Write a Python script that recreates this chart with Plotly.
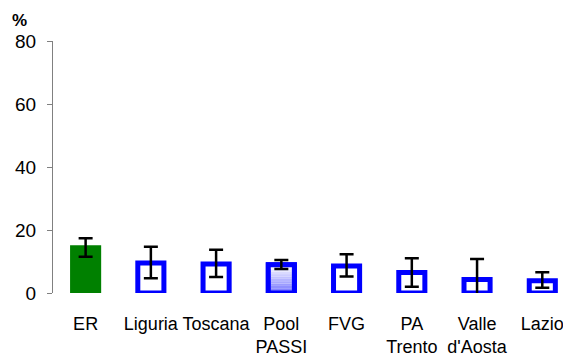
import plotly.graph_objects as go

categories = ["ER", "Liguria", "Toscana", "Pool<br>PASSI", "FVG", "PA<br>Trento", "Valle<br>d'Aosta", "Lazio"]
values = [14.4, 9.5, 9.2, 9.0, 8.6, 6.5, 4.3, 3.9]
ci_low = [11.5, 4.7, 5.1, 7.6, 5.2, 2.0, -1.6, 1.7]
ci_high = [17.4, 14.7, 13.7, 10.5, 12.3, 11.0, 10.8, 6.6]
y_ticks = [0, 20, 40, 60, 80]

GREEN = "#008000"
BLUE = "#0000FF"
BAR_W = 0.40
LINE_W = 5

# the page body has an 8px margin, so the figure is sized/offset to compensate
FIG_W, FIG_H = 563, 348
M_L, M_T, M_B, M_R = 45, 33, 63, 0
PLOT_W = FIG_W - M_L - M_R
PLOT_H = FIG_H - M_T - M_B

fig = go.Figure()

# ER bar (green)
fig.add_trace(go.Bar(
    x=[categories[0]], y=[values[0]], width=BAR_W,
    marker=dict(color=GREEN, line=dict(color=GREEN, width=LINE_W)),
    showlegend=False, hoverinfo="skip",
))

# outlined bars (blue border), white fill
others = list(range(1, len(categories)))
pool_idx = 3
fig.add_trace(go.Bar(
    x=[categories[i] for i in others], y=[values[i] for i in others], width=BAR_W,
    marker=dict(color="white", line=dict(color=BLUE, width=LINE_W)),
    showlegend=False, hoverinfo="skip",
))

# Pool PASSI gradient fill built from stacked slices of its own value
n_slices = 12
pv = values[pool_idx]
for i in range(n_slices):
    t = i / (n_slices - 1)  # 0 bottom -> 1 top
    r = int(120 + (255 - 120) * t)
    g = int(120 + (255 - 120) * t)
    fig.add_trace(go.Bar(
        x=[categories[pool_idx]], y=[pv / n_slices], base=[pv * i / n_slices],
        width=BAR_W,
        marker=dict(color=f"rgb({r},{g},255)", line=dict(width=0)),
        showlegend=False, hoverinfo="skip",
    ))

# Pool PASSI outline on top
fig.add_trace(go.Bar(
    x=[categories[pool_idx]], y=[pv], width=BAR_W,
    marker=dict(color="rgba(0,0,0,0)", line=dict(color=BLUE, width=LINE_W)),
    showlegend=False, hoverinfo="skip",
))

# confidence-interval error bars
fig.add_trace(go.Scatter(
    x=categories, y=values, mode="markers",
    marker=dict(size=1, color="rgba(0,0,0,0)"),
    error_y=dict(type="data", symmetric=False,
                 array=[h - v for h, v in zip(ci_high, values)],
                 arrayminus=[v - l for v, l in zip(values, ci_low)],
                 color="black", thickness=2.5, width=7),
    showlegend=False, hoverinfo="skip",
))

fig.update_layout(
    width=FIG_W, height=FIG_H,
    margin=dict(l=M_L, r=M_R, t=M_T, b=M_B, autoexpand=False),
    paper_bgcolor="white", plot_bgcolor="white",
    barmode="overlay",
    font=dict(family="Liberation Sans, Arial, sans-serif", size=18, color="black"),
    xaxis=dict(
        type="category", categoryorder="array", categoryarray=categories,
        range=[-0.5, 7.44], showline=False, showgrid=False, zeroline=False,
        ticks="outside", ticklen=14, tickcolor="rgba(0,0,0,0)",
        tickfont=dict(size=18), automargin=False, fixedrange=True,
        ticklabeloverflow="allow",
    ),
    yaxis=dict(
        range=[0, 80], tickvals=y_ticks, showgrid=False, zeroline=False,
        showline=True, linecolor="#808080", linewidth=1,
        ticks="outside", ticklen=5, tickcolor="#808080",
        tickfont=dict(size=19), ticklabelstandoff=7, automargin=False,
    ),
    annotations=[dict(
        text="<b>%</b>", xref="paper", yref="paper",
        x=(2 - M_L) / PLOT_W, y=1 + (M_T - 1) / PLOT_H, xanchor="left", yanchor="top",
        showarrow=False, font=dict(size=17),
    )],
)

fig.write_html("out.html")
